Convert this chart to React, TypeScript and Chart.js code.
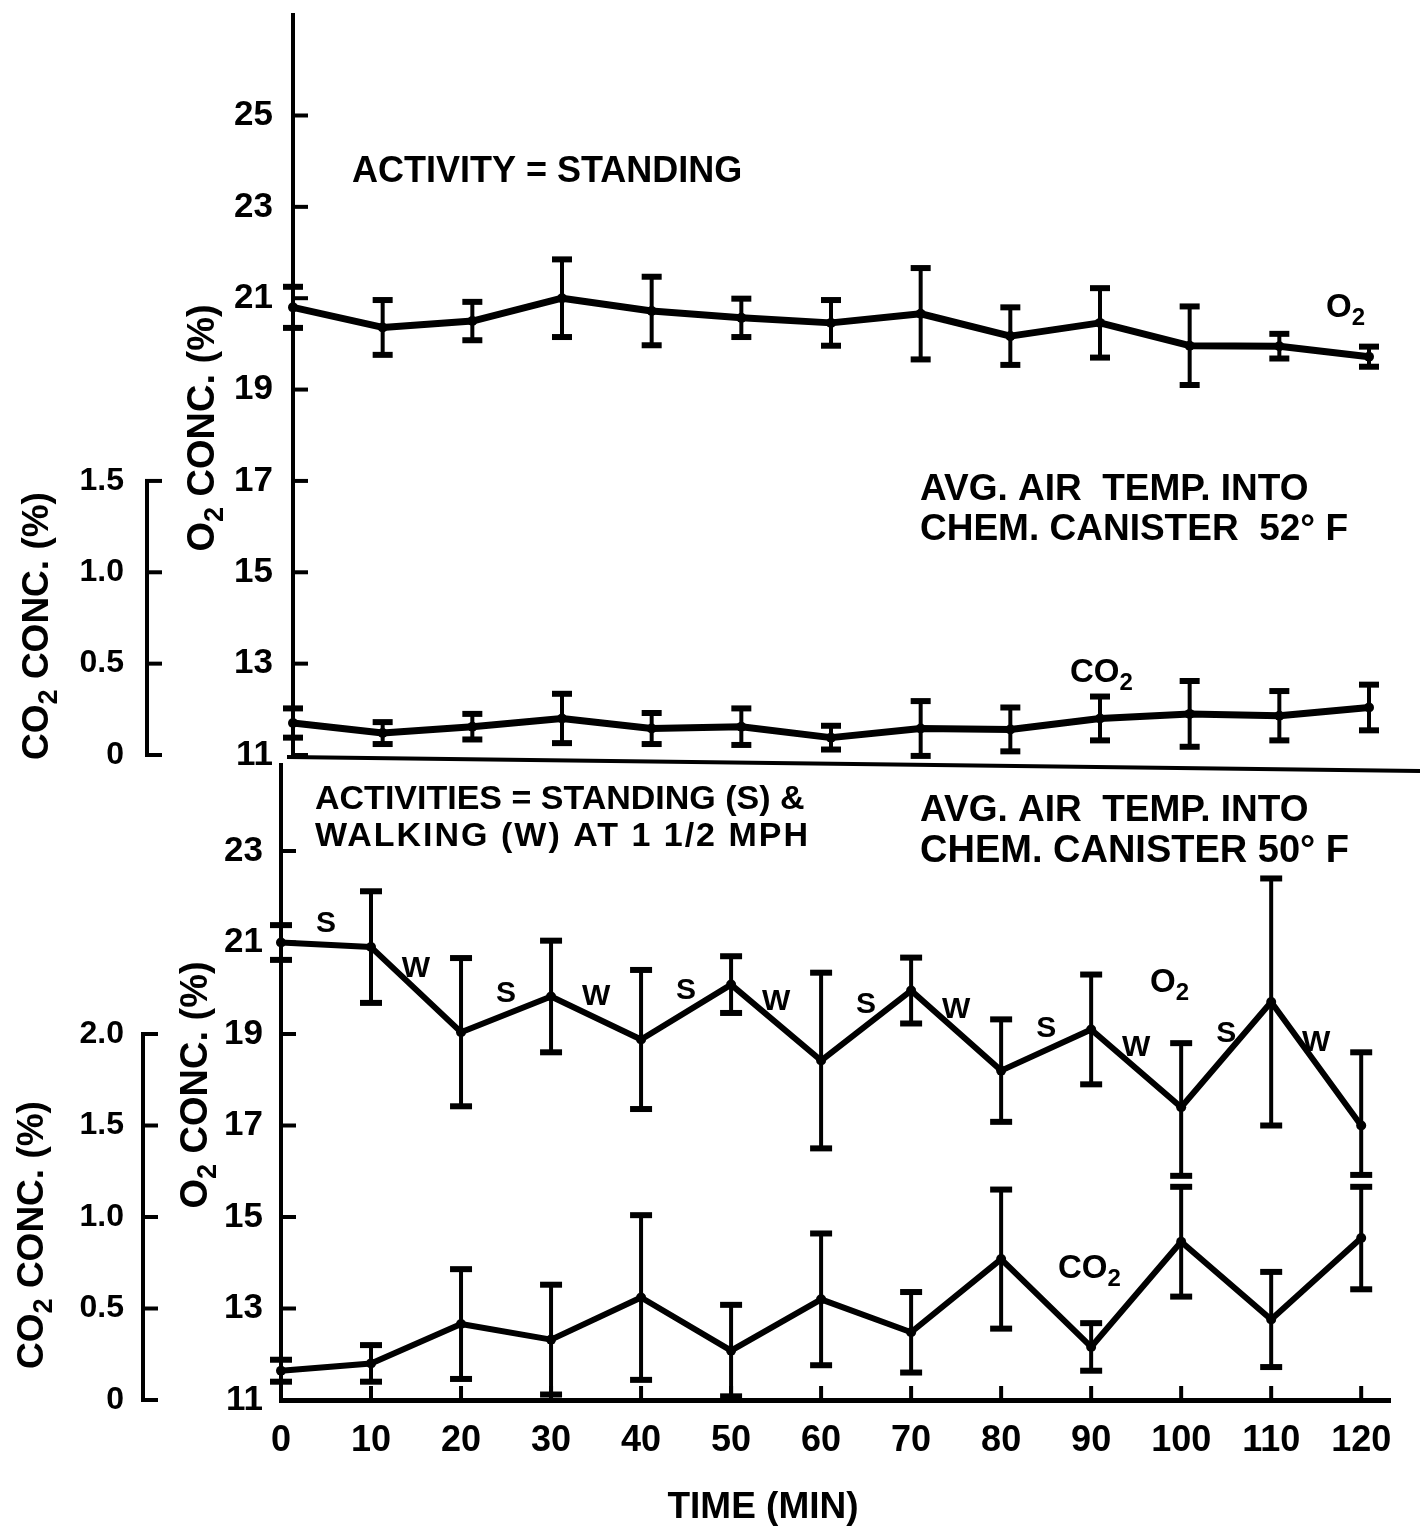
import React, { useEffect, useRef } from 'react';
import { Chart, registerables } from 'chart.js';

Chart.register(...registerables);

// ---------------- DATA ----------------
const timeMin = [0, 10, 20, 30, 40, 50, 60, 70, 80, 90, 100, 110, 120];

// Top panel: activity = standing
const topO2 = [20.8, 20.36, 20.5, 21.0, 20.72, 20.57, 20.46, 20.66, 20.17, 20.46, 19.96, 19.95, 19.72];
const topO2Err = [0.45, 0.6, 0.42, 0.85, 0.75, 0.42, 0.5, 1.0, 0.63, 0.76, 0.86, 0.27, 0.22];
const topCO2 = [0.175, 0.12, 0.155, 0.2, 0.145, 0.155, 0.095, 0.145, 0.14, 0.2, 0.225, 0.215, 0.26];
const topCO2Err = [0.08, 0.06, 0.07, 0.135, 0.085, 0.1, 0.065, 0.15, 0.12, 0.12, 0.18, 0.135, 0.125];

// Bottom panel: standing (S) & walking (W)
const botO2 = [21.0, 20.9, 19.04, 19.82, 18.88, 20.08, 18.42, 19.95, 18.2, 19.1, 17.4, 19.7, 17.0];
const botO2ErrLow = [0.38, 1.22, 1.62, 1.22, 1.52, 0.62, 1.92, 0.72, 1.12, 1.2, 1.5, 2.7, 1.08];
const botO2ErrHigh = [0.38, 1.22, 1.62, 1.22, 1.52, 0.62, 1.92, 0.72, 1.12, 1.2, 1.4, 2.7, 1.6];
const botCO2 = [0.16, 0.2, 0.415, 0.33, 0.56, 0.27, 0.55, 0.37, 0.77, 0.29, 0.865, 0.44, 0.885];
const botCO2Err = [0.06, 0.1, 0.3, 0.3, 0.45, 0.25, 0.36, 0.22, 0.38, 0.13, 0.3, 0.26, 0.28];

const activityLabels = ['S', 'W', 'S', 'W', 'S', 'W', 'S', 'W', 'S', 'W', 'S', 'W'];

// Ticks
const xTicks = [0, 10, 20, 30, 40, 50, 60, 70, 80, 90, 100, 110, 120];
const topO2Ticks = [11, 13, 15, 17, 19, 21, 23, 25];
const botO2Ticks = [11, 13, 15, 17, 19, 21, 23];
const topCO2Ticks = [0, 0.5, 1.0, 1.5];
const topCO2TickLabels = ['0', '0.5', '1.0', '1.5'];
const botCO2Ticks = [0, 0.5, 1.0, 1.5, 2.0];
const botCO2TickLabels = ['0', '0.5', '1.0', '1.5', '2.0'];

// Texts
const TXT_TOP_ACTIVITY = 'ACTIVITY = STANDING';
const TXT_TOP_TEMP1 = 'AVG. AIR  TEMP. INTO';
const TXT_TOP_TEMP2 = 'CHEM. CANISTER  52° F';
const TXT_BOT_ACT1 = 'ACTIVITIES = STANDING (S) &';
const TXT_BOT_ACT2 = 'WALKING (W) AT 1 1/2 MPH';
const TXT_BOT_TEMP1 = 'AVG. AIR  TEMP. INTO';
const TXT_BOT_TEMP2 = 'CHEM. CANISTER 50° F';
const TXT_O2_AXIS = 'O₂ CONC. (%)';
const TXT_CO2_AXIS = 'CO₂ CONC. (%)';
const TXT_O2 = 'O₂';
const TXT_CO2 = 'CO₂';
const TXT_TIME = 'TIME (MIN)';

// ---------------- STYLE ----------------
const FAMILY = "'Liberation Sans', Arial, 'DejaVu Sans', sans-serif";
const BOTTOM_OFFSET = 740; // page y of bottom canvas

function font(size: number) {
  return `bold ${size}px ${FAMILY}`;
}

// Draw text, rendering '₂' as a lowered smaller '2'
function drawRich(ctx: any, text: string, x: number, y: number, size: number, align: 'left' | 'center', rotation = 0, spacing = 0) {
  const segs: { t: string; sub: boolean }[] = [];
  for (const ch of text) {
    const sub = ch === '₂';
    const c = sub ? '2' : ch;
    const last = segs[segs.length - 1];
    if (last && last.sub === sub) last.t += c;
    else segs.push({ t: c, sub });
  }
  const subSize = Math.round(size * 0.72);
  ctx.save();
  ctx.letterSpacing = `${spacing}px`;
  let total = 0;
  const widths = segs.map((s) => {
    ctx.font = font(s.sub ? subSize : size);
    const w = ctx.measureText(s.t).width;
    total += w;
    return w;
  });
  ctx.translate(x, y);
  ctx.rotate(rotation);
  ctx.textBaseline = 'middle';
  ctx.textAlign = 'left';
  ctx.fillStyle = '#000';
  let cx = align === 'center' ? -total / 2 : 0;
  segs.forEach((s, i) => {
    ctx.font = font(s.sub ? subSize : size);
    ctx.fillText(s.t, cx, s.sub ? size * 0.3 : 0);
    cx += widths[i];
  });
  ctx.restore();
}

function line(ctx: any, x1: number, y1: number, x2: number, y2: number) {
  ctx.beginPath();
  ctx.moveTo(x1, y1);
  ctx.lineTo(x2, y2);
  ctx.stroke();
}

const errorBarPlugin = {
  id: 'errorBars',
  afterDatasetsDraw(chart: any) {
    const ctx = chart.ctx;
    ctx.save();
    ctx.strokeStyle = '#000';
    chart.data.datasets.forEach((ds: any, i: number) => {
      const meta = chart.getDatasetMeta(i);
      const ys = chart.scales[meta.yAxisID];
      const capW = ds.capWidth || 20;
      ds.data.forEach((d: any, j: number) => {
        const pt = meta.data[j];
        if (!pt) return;
        const x = pt.x;
        const yt = ys.getPixelForValue(d.y + ds.errHigh[j]);
        const yb = ys.getPixelForValue(d.y - ds.errLow[j]);
        ctx.lineWidth = 4;
        ctx.lineCap = 'butt';
        line(ctx, x, yt, x, yb);
        ctx.lineWidth = 6;
        line(ctx, x - capW / 2, yt, x + capW / 2, yt);
        line(ctx, x - capW / 2, yb, x + capW / 2, yb);
      });
    });
    ctx.restore();
  },
};

function drawInwardTicks(ctx: any, chart: any, ticks: number[]) {
  const y = chart.scales.y;
  const left = chart.chartArea.left;
  ctx.lineWidth = 4;
  ticks.forEach((v) => {
    const py = y.getPixelForValue(v);
    line(ctx, left, py, left + 15, py);
  });
}

function drawBracket(ctx: any, scale: any, ticks: number[]) {
  const x = scale.right;
  ctx.lineWidth = 4;
  ctx.lineCap = 'square';
  const top = scale.getPixelForValue(ticks[ticks.length - 1]);
  const bottom = scale.getPixelForValue(ticks[0]);
  line(ctx, x, top, x, bottom);
  ticks.forEach((v) => {
    const py = scale.getPixelForValue(v);
    line(ctx, x, py, x + 13, py);
  });
  ctx.lineCap = 'butt';
}

const topDeco = {
  id: 'topDeco',
  afterDraw(chart: any) {
    const ctx = chart.ctx;
    ctx.save();
    ctx.strokeStyle = '#000';
    ctx.fillStyle = '#000';
    drawInwardTicks(ctx, chart, topO2Ticks);
    drawBracket(ctx, chart.scales.co2, topCO2Ticks);
    // panel separator
    const y11 = chart.scales.y.getPixelForValue(11);
    ctx.lineWidth = 4;
    line(ctx, chart.chartArea.left - 6, y11 + 2, 1420, y11 + 16);
    // annotations
    drawRich(ctx, TXT_TOP_ACTIVITY, 352, 172, 36, 'left');
    drawRich(ctx, TXT_O2, 1326, 308, 33, 'left');
    drawRich(ctx, TXT_TOP_TEMP1, 920, 490, 37, 'left');
    drawRich(ctx, TXT_TOP_TEMP2, 920, 530, 37, 'left');
    drawRich(ctx, TXT_CO2, 1070, 673, 33, 'left');
    drawRich(ctx, TXT_O2_AXIS, 204, 428, 38, 'center', -Math.PI / 2);
    drawRich(ctx, TXT_CO2_AXIS, 38, 626, 37, 'center', -Math.PI / 2);
    ctx.restore();
  },
};

const botDeco = {
  id: 'botDeco',
  afterDraw(chart: any) {
    const ctx = chart.ctx;
    const o = BOTTOM_OFFSET;
    ctx.save();
    ctx.strokeStyle = '#000';
    ctx.fillStyle = '#000';
    drawInwardTicks(ctx, chart, botO2Ticks);
    drawBracket(ctx, chart.scales.co2, botCO2Ticks);
    // x ticks pointing up
    const xs = chart.scales.x;
    const bottom = chart.chartArea.bottom;
    ctx.lineWidth = 4;
    xTicks.forEach((v) => {
      const px = xs.getPixelForValue(v);
      line(ctx, px, bottom, px, bottom - 14);
    });
    // activity labels (S / W) above each segment midpoint
    const meta = chart.getDatasetMeta(0);
    ctx.font = font(30);
    ctx.textAlign = 'center';
    ctx.textBaseline = 'middle';
    activityLabels.forEach((lab, k) => {
      const p0 = meta.data[k];
      const p1 = meta.data[k + 1];
      if (!p0 || !p1) return;
      ctx.fillText(lab, (p0.x + p1.x) / 2, (p0.y + p1.y) / 2 - 21);
    });
    // annotations
    drawRich(ctx, TXT_BOT_ACT1, 315, 800 - o, 34, 'left');
    drawRich(ctx, TXT_BOT_ACT2, 315, 837 - o, 34, 'left', 0, 2);
    drawRich(ctx, TXT_BOT_TEMP1, 920, 811 - o, 37, 'left');
    drawRich(ctx, TXT_BOT_TEMP2, 920, 852 - o, 38, 'left');
    drawRich(ctx, TXT_O2, 1150, 983 - o, 33, 'left');
    drawRich(ctx, TXT_CO2, 1058, 1269 - o, 33, 'left');
    drawRich(ctx, TXT_O2_AXIS, 197, 1085 - o, 38, 'center', -Math.PI / 2);
    drawRich(ctx, TXT_CO2_AXIS, 33, 1235 - o, 37, 'center', -Math.PI / 2);
    drawRich(ctx, TXT_TIME, 763, 1508 - o, 37, 'center');
    ctx.restore();
  },
};

function lineDataset(label: string, ys: number[], lo: number[], hi: number[], axis: string, width: number, capWidth: number) {
  return {
    label,
    data: timeMin.map((t, i) => ({ x: t, y: ys[i] })),
    yAxisID: axis,
    xAxisID: 'x',
    borderColor: '#000',
    backgroundColor: '#000',
    borderWidth: width,
    borderJoinStyle: 'round',
    borderCapStyle: 'round',
    pointRadius: 5,
    pointBorderWidth: 0,
    pointBackgroundColor: '#000',
    tension: 0,
    clip: false,
    errLow: lo,
    errHigh: hi,
    capWidth,
  } as any;
}

function zeroPadding(s: any) {
  s.paddingTop = 0;
  s.paddingBottom = 0;
  s.paddingLeft = 0;
  s.paddingRight = 0;
}

function yAxis(min: number, max: number, ticks: number[], width: number, padding: number, size: number, weight: number, labels: string[] | null, border: boolean) {
  return {
    type: 'linear',
    position: 'left',
    weight,
    min,
    max,
    afterBuildTicks: (s: any) => {
      s.ticks = ticks.map((v) => ({ value: v }));
    },
    afterFit: (s: any) => {
      s.width = width;
      zeroPadding(s);
    },
    grid: { display: false, drawTicks: false },
    border: { display: border, width: 4, color: '#000' },
    ticks: {
      autoSkip: false,
      color: '#000',
      padding,
      font: { family: FAMILY, size, weight: 'bold' },
      callback: (v: any, idx: number) => (labels ? labels[idx] : String(v)),
    },
  } as any;
}

const TOP_O2_MAX = 27.2;
const BOT_O2_MAX = 24.88;

function topConfig(): any {
  return {
    type: 'line',
    data: {
      datasets: [
        lineDataset('O2', topO2, topO2Err, topO2Err, 'y', 7, 20),
        lineDataset('CO2', topCO2, topCO2Err, topCO2Err, 'co2', 7, 20),
      ],
    },
    options: {
      responsive: false,
      animation: false,
      devicePixelRatio: 1,
      events: [],
      layout: { padding: { left: 0, right: 57, top: 15, bottom: 35 } },
      plugins: { legend: { display: false }, tooltip: { enabled: false } },
      scales: {
        x: { type: 'linear', min: 0, max: 120, display: false, afterFit: zeroPadding },
        y: yAxis(11, TOP_O2_MAX, topO2Ticks, 146, 20, 35, 0, null, true),
        co2: yAxis(0, (TOP_O2_MAX - 11) / 4, topCO2Ticks, 147, 23, 32, 1, topCO2TickLabels, false),
      },
    },
    plugins: [errorBarPlugin, topDeco],
  };
}

function botConfig(): any {
  return {
    type: 'line',
    data: {
      datasets: [
        lineDataset('O2', botO2, botO2ErrLow, botO2ErrHigh, 'y', 6, 22),
        lineDataset('CO2', botCO2, botCO2Err, botCO2Err, 'co2', 6, 22),
      ],
    },
    options: {
      responsive: false,
      animation: false,
      devicePixelRatio: 1,
      events: [],
      layout: { padding: { left: 0, right: 36, top: 25, bottom: 0 } },
      plugins: { legend: { display: false }, tooltip: { enabled: false } },
      scales: {
        x: {
          type: 'linear',
          position: 'bottom',
          min: 0,
          max: 123.2,
          afterBuildTicks: (s: any) => {
            s.ticks = xTicks.map((v) => ({ value: v }));
          },
          afterFit: (s: any) => {
            s.height = 130;
            zeroPadding(s);
          },
          grid: { display: false, drawTicks: false },
          border: { display: true, width: 5, color: '#000' },
          ticks: {
            autoSkip: false,
            maxRotation: 0,
            minRotation: 0,
            color: '#000',
            padding: 19,
            font: { family: FAMILY, size: 36, weight: 'bold' },
          },
        },
        y: yAxis(11, BOT_O2_MAX, botO2Ticks, 138, 18, 35, 0, null, true),
        co2: yAxis(0, (BOT_O2_MAX - 11) / 4, botCO2Ticks, 143, 19, 32, 1, botCO2TickLabels, false),
      },
    },
    plugins: [errorBarPlugin, botDeco],
  };
}

export default function App() {
  const topRef = useRef<HTMLCanvasElement>(null);
  const botRef = useRef<HTMLCanvasElement>(null);

  useEffect(() => {
    const c1 = new Chart(topRef.current as HTMLCanvasElement, topConfig());
    const c2 = new Chart(botRef.current as HTMLCanvasElement, botConfig());
    return () => {
      c1.destroy();
      c2.destroy();
    };
  }, []);

  return (
    <div style={{ position: 'absolute', left: 0, top: 0, width: 1426, height: 1530, background: '#fff', overflow: 'hidden' }}>
      <canvas ref={topRef} width={1426} height={790} style={{ position: 'absolute', left: 0, top: 0, width: 1426, height: 790 }} />
      <canvas ref={botRef} width={1426} height={790} style={{ position: 'absolute', left: 0, top: BOTTOM_OFFSET, width: 1426, height: 790 }} />
    </div>
  );
}
